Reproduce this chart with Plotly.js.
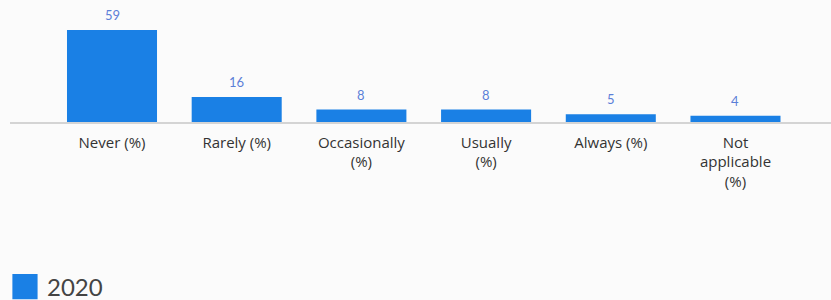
<!DOCTYPE html>
<html>
<head>
<meta charset="utf-8">
<script src="https://cdn.plot.ly/plotly-3.0.1.min.js"></script>
<style>html,body{margin:0;padding:0;background:#fbfbfb;}#chart{width:831px;height:300px;}</style>
</head>
<body>
<div id="chart"></div>
<script>
var categories = ["Never (%)", "Rarely (%)", "Occasionally<br>(%)", "Usually<br>(%)", "Always (%)", "Not<br>applicable<br>(%)"];
var values2020 = [59, 16, 8, 8, 5, 4];
var seriesName = "2020";

var trace = {
  type: "bar",
  x: categories,
  y: values2020,
  name: seriesName,
  marker: {color: "#1a80e5"},
  hoverinfo: "skip"
};

var annotations = categories.map(function (c, i) {
  return {
    x: c, y: values2020[i], xref: "x", yref: "y",
    text: String(values2020[i]),
    showarrow: false, yanchor: "bottom", yshift: 5,
    font: {family: "Lato, sans-serif", size: 13, color: "#5b7fd8"}
  };
});

var layout = {
  width: 831, height: 300,
  margin: {l: 10, r: 0, t: 5, b: 178, autoexpand: false},
  paper_bgcolor: "#fbfbfb", plot_bgcolor: "#fbfbfb",
  bargap: 0.278,
  showlegend: true,
  legend: {
    orientation: "h", xref: "container", yref: "container",
    x: 0.0084, xanchor: "left", y: 0.043, yanchor: "middle",
    font: {family: "Lato, sans-serif", size: 24, color: "#444"},
    bgcolor: "rgba(0,0,0,0)"
  },
  xaxis: {
    type: "category",
    range: [-0.818, 5.766],
    showline: true, linecolor: "#d4d4d4", linewidth: 1.5,
    showgrid: false, zeroline: false, ticks: "",
    ticklabelstandoff: 6,
    tickfont: {family: "'Open Sans', sans-serif", size: 15, color: "#333"},
    fixedrange: true
  },
  yaxis: {
    range: [0, 75],
    visible: false, showgrid: false, zeroline: false,
    fixedrange: true
  },
  annotations: annotations
};

Plotly.newPlot("chart", [trace], layout, {displayModeBar: false, staticPlot: true}).then(function () {
  var pts = document.querySelectorAll(".legendpoints path");
  pts.forEach(function (p) { p.setAttribute("transform", "translate(18,0) scale(2.1)"); });
});
</script>
</body>
</html>
